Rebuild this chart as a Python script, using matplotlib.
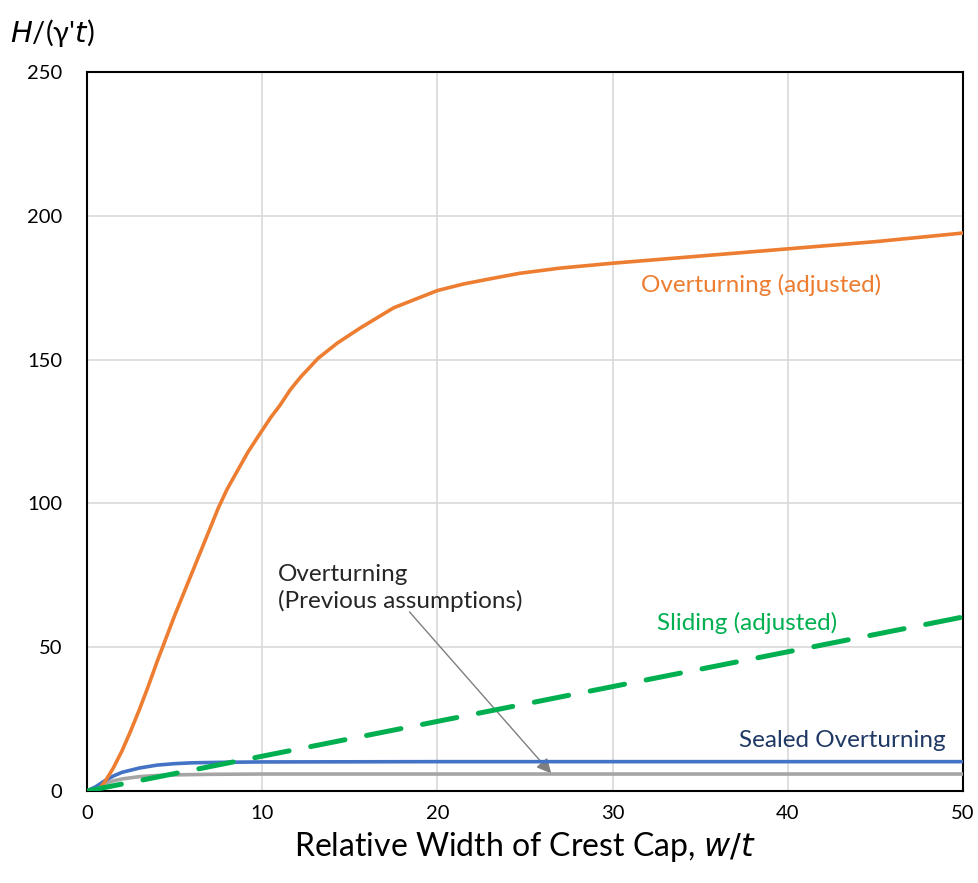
import numpy as np
import matplotlib
matplotlib.use('Agg')
from matplotlib import pyplot as plt

plt.rcParams['font.family'] = ['Lato', 'DejaVu Sans']

#################################
# Data
x_over = [0, 0.6, 1.0, 1.5, 2.0, 2.5, 3.0, 3.5, 4.0, 4.5, 5.0, 5.5, 6.0, 6.5, 7.0, 7.5,
          8.0, 8.6, 9.2, 9.9, 10.5, 11.0, 11.6, 12.2, 13.2, 14.3, 15.6, 17.5,
          20.0, 21.5, 23.2, 24.7, 27.0, 30.0, 35.0, 40.0, 45.0, 50.0]
y_over = [0, 0, 3, 8, 14, 21, 28.5, 36.5, 45, 53, 61, 68.5, 76, 83.5, 91, 98.5,
          105, 111.5, 118, 124.5, 130, 134, 139.5, 144, 150.5, 155.8, 161, 168,
          174, 176.3, 178.3, 180, 181.8, 183.5, 186, 188.5, 191, 194]

x_seal = [0, 0.5, 1.0, 1.5, 2.0, 3.0, 4.0, 5.0, 6.0, 8.0, 10.0, 20.0, 30.0, 40.0, 50.0]
y_seal = [0, 1.5, 3.5, 5.2, 6.5, 8.0, 9.0, 9.5, 9.8, 10.0, 10.1, 10.2, 10.2, 10.2, 10.2]

x_prev = [0, 0.5, 1.0, 1.5, 2.0, 3.0, 4.0, 5.0, 7.0, 10.0, 20.0, 30.0, 40.0, 50.0]
y_prev = [0, 1.2, 2.5, 3.5, 4.2, 5.0, 5.4, 5.6, 5.8, 5.9, 5.9, 5.9, 5.9, 5.9]

x_slide = [0, 50]
y_slide = [0, 60.5]

xticks = [0, 10, 20, 30, 40, 50]
yticks = [0, 50, 100, 150, 200, 250]
#################################

tk_fs = 14.5
an_fs = 17.5
lb_fs = 23

fig = plt.figure(figsize=[9.79, 8.83], dpi=100)
ax = fig.add_axes([0.0889, 0.1042, 0.8948, 0.8143])

ax.plot(x_prev, y_prev, color='#A5A5A5', lw=2.6, zorder=5)
ax.plot(x_seal, y_seal, color='#4472C4', lw=2.6, zorder=6)
ax.plot(x_over, y_over, color='#ED7D31', lw=2.6, zorder=7)
ax.plot(x_slide, y_slide, color='#00B050', lw=3.6, ls=(0, (7, 4.4)), zorder=8,
        dash_capstyle='round')

ax.set_xlim(0, 50)
ax.set_ylim(0, 250)
ax.set_xticks(xticks)
ax.set_yticks(yticks)
ax.grid(color='#D9D9D9', lw=1.2)
ax.set_axisbelow(True)
ax.tick_params(axis='both', length=0, labelsize=tk_fs)
ax.tick_params(axis='y', pad=18)
ax.tick_params(axis='x', pad=10)
for sp in ax.spines.values():
    sp.set_linewidth(1.5)
    sp.set_color('black')

ax.set_xlabel('Relative Width of Crest Cap, $\\mathit{w/t}$', fontsize=lb_fs, labelpad=6)
fig.text(0.010, 0.963, "$\\mathit{H}$/(γ'$\\mathit{t}$)", fontsize=21, ha='left', va='center')

ax.text(38.5, 176, 'Overturning (adjusted)', color='#ED7D31', fontsize=an_fs, ha='center', va='center')
ax.text(37.7, 58.4, 'Sliding (adjusted)', color='#00B050', fontsize=an_fs, ha='center', va='center')
ax.text(43.1, 17.7, 'Sealed Overturning', color='#1F3864', fontsize=an_fs, ha='center', va='center')
ax.text(10.9, 70.5, 'Overturning\n(Previous assumptions)', color='#262626', fontsize=an_fs,
        ha='left', va='center', linespacing=1.3)
ax.annotate('', xy=(26.6, 5.4), xytext=(18.3, 63),
            arrowprops=dict(arrowstyle='-|>', color='#7F7F7F', lw=1, mutation_scale=22))

plt.savefig('out.png', dpi=100)
